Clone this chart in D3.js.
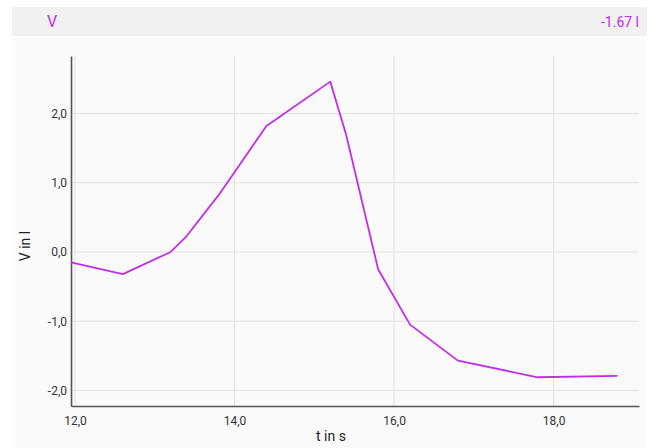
<!DOCTYPE html>
<html><head><meta charset="utf-8">
<script src="https://cdn.jsdelivr.net/npm/d3@7"></script>
<style>
html,body{margin:0;padding:0;background:#fff;}
svg{display:block;font-family:Roboto,"Liberation Sans",sans-serif;}
</style></head>
<body><svg id="c" width="660" height="448"></svg>
<script>
const times  = [11.95, 12.6, 13.2, 13.4, 13.8, 14.4, 15.2, 15.4, 15.8, 16.2, 16.8, 17.8, 18.8];
const values = [-0.15, -0.32, 0.0, 0.23, 0.82, 1.82, 2.46, 1.69, -0.25, -1.05, -1.57, -1.81, -1.79];
const xTicks = [12, 14, 16, 18];
const yTicks = [-2, -1, 0, 1, 2];
const seriesName = "V";
const currentValue = "-1.67 l";
const xLabel = "t in s";
const yLabel = "V in l";

const svg = d3.select("#c");
const col = "#c12ee6";
const fmt = v => d3.format(".1f")(v).replace(".", ",").replace("−","-");

svg.append("rect").attr("x",12).attr("y",38).attr("width",635).attr("height",410).attr("fill","#fafafa");
svg.append("rect").attr("x",12).attr("y",7).attr("width",635).attr("height",29).attr("fill","#f1f1f1");
svg.append("text").attr("x",47).attr("y",27).attr("fill",col).attr("font-size",16).text(seriesName);
svg.append("text").attr("x",639).attr("y",27).attr("fill",col).attr("font-size",14).attr("text-anchor","end").text(currentValue);

const x = d3.scaleLinear().domain([11.95, 19.07]).range([71, 639]);
const y = d3.scaleLinear().domain([-2.225, 2.83]).range([406, 56]);

const g = svg.append("g");
g.selectAll(".vg").data(xTicks).join("line")
  .attr("x1",d=>x(d)).attr("x2",d=>x(d)).attr("y1",56).attr("y2",406)
  .attr("stroke","#e2e2e2").attr("stroke-width",1);
g.selectAll(".hg").data(yTicks).join("line")
  .attr("x1",71).attr("x2",639).attr("y1",d=>y(d)).attr("y2",d=>y(d))
  .attr("stroke","#e2e2e2").attr("stroke-width",1);

const xAxis = svg.append("g").attr("transform","translate(0,406)")
  .call(d3.axisBottom(x).tickValues(xTicks).tickSize(0).tickPadding(10).tickFormat(fmt));
xAxis.select(".domain").attr("stroke","#555").attr("stroke-width",1.6);
xAxis.selectAll("text").attr("font-size",12).attr("fill","#333").attr("font-family","Roboto,'Liberation Sans',sans-serif");

const yAxis = svg.append("g").attr("transform","translate(71,0)")
  .call(d3.axisLeft(y).tickValues(yTicks).tickSize(0).tickPadding(4).tickFormat(fmt));
yAxis.select(".domain").attr("stroke","#555").attr("stroke-width",1.6);
yAxis.selectAll("text").attr("font-size",12).attr("fill","#333").attr("font-family","Roboto,'Liberation Sans',sans-serif");

const pts = times.map((t,i)=>[t, values[i]]);
svg.append("path").datum(pts)
  .attr("d", d3.line().x(d=>x(d[0])).y(d=>y(d[1])))
  .attr("fill","none").attr("stroke",col).attr("stroke-width",1.8).attr("stroke-linejoin","round");

svg.append("text").attr("x",331).attr("y",441).attr("text-anchor","middle").attr("font-size",14).attr("fill","#222").text(xLabel);
svg.append("text").attr("transform","translate(30,246) rotate(-90)").attr("text-anchor","middle").attr("font-size",14).attr("fill","#222").text(yLabel);
</script></body></html>
